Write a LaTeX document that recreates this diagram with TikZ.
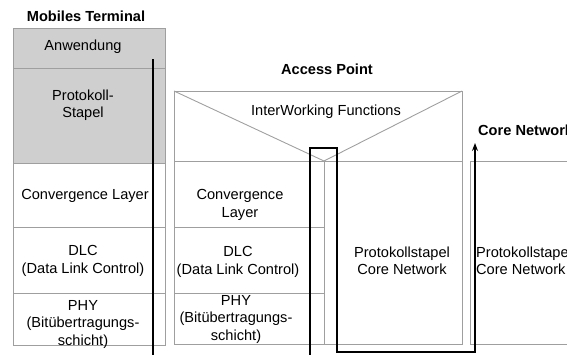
\documentclass[tikz,border=0pt]{standalone}
\usepackage{fontspec}
\setmainfont{Liberation Sans}
\usetikzlibrary{arrows.meta,positioning}

\tikzset{
  frame/.style={draw=gray!75, line width=0.9pt},
  lbl/.style={align=center, inner sep=0pt, font=\fontsize{14.6}{17.5}\selectfont},
  ttl/.style={inner sep=0pt, font=\fontsize{14.6}{17}\selectfont\bfseries},
  flow/.style={draw=black, line width=1.1pt},
}

\begin{document}
\begin{tikzpicture}[x=1pt, y=-1pt, >=Stealth, line join=miter]
    \useasboundingbox (0,0) rectangle (567,354);
    \clip (0,0) rectangle (567,354);
    % Mobiles Terminal
    \fill[black!19] (13,28) rectangle (165,163);
    \draw[frame] (13,28) rectangle (165,345);
    \draw[frame] (13,68) -- (165,68);
    \draw[frame] (13,163) -- (165,163);
    \draw[frame] (13,227) -- (165,227);
    \draw[frame] (13,293) -- (165,293);
    \node[ttl] (mt) at (86,16) {Mobiles Terminal};
    \node[lbl] (mtApp) at (83,47) {Anwendung};
    \node[lbl] (mtStack) at (83,105) {Protokoll-\\Stapel};
    \node[lbl] (mtConv) at (85,196) {Convergence Layer};
    \node[lbl] (mtDlc) at (83,261) {DLC\\(Data Link Control)};
    \node[lbl] (mtPhy) at (83,324) {PHY\\(Bitübertragungs-\\schicht)};
    % Access Point
    \draw[frame] (174,91) rectangle (462,344);
    \draw[frame] (174,161) -- (462,161);
    \draw[frame] (174,91) -- (324,161) -- (462,91);
    \draw[frame] (324,161) -- (324,344);
    \draw[frame] (174,227) -- (324,227);
    \draw[frame] (174,293) -- (324,293);
    \node[ttl] (ap) at (327,69) {Access Point};
    \node[lbl] (apIwf) at (326,112) {InterWorking Functions};
    \node[lbl] (apConv) at (240,205) {Convergence\\Layer};
    \node[lbl] (apDlc) at (238,262) {DLC\\(Data Link Control)};
    \node[lbl] (apPhy) at (236,319) {PHY\\(Bitübertragungs-\\schicht)};
    \node[lbl] (apCore) at (402,261) {Protokollstapel\\Core Network};
    % Core Network
    \draw[frame] (590,161) -- (470,161) -- (470,344) -- (590,344);
    \node[ttl, anchor=west] (cn) at (478,130) {Core Network};
    \node[lbl, anchor=west, align=left] (cnStack) at (476,261) {Protokollstapel\\Core Network};
    % Datenpfad
    \coordinate (mtIn) at (153,59);
    \coordinate (mtOut) at (153,356);
    \coordinate (apIn) at (310,356);
    \coordinate (apUp) at (310,148);
    \coordinate (apOver) at (337,148);
    \coordinate (apDown) at (337,352);
    \coordinate (cnIn) at (475,352);
    \coordinate (cnOut) at (475,143);
    \draw[flow] (mtIn) -- (mtOut);
    \draw[flow, ->] (apIn) -- (apUp) -- (apOver) -- (apDown) -- (cnIn) -- (cnOut);
  \end{tikzpicture}
\end{document}
